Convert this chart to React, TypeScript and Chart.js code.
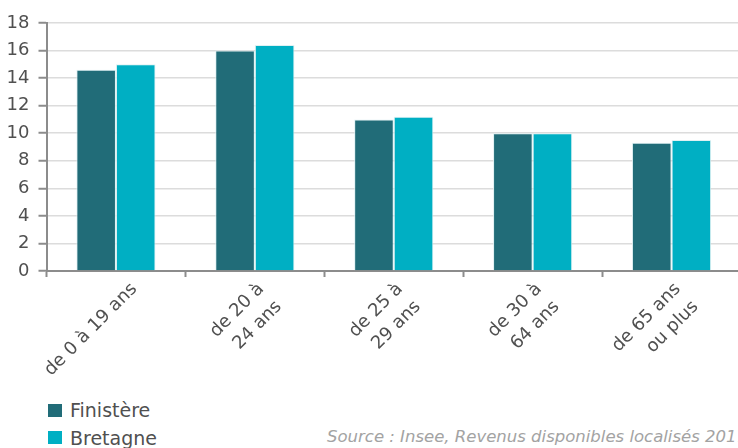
import { useEffect, useRef } from "react";
import { Chart, registerables } from "chart.js";

Chart.register(...registerables);

// Age groups (multi-line labels where the axis wraps them)
const categories: string[][] = [
  ["de 0 à 19 ans"],
  ["de 20 à", "24 ans"],
  ["de 25 à", "29 ans"],
  ["de 30 à", "64 ans"],
  ["de 65 ans", "ou plus"],
];

// Poverty rate by age group, in %
const finistere = [14.6, 16.0, 11.0, 10.0, 9.3];
const bretagne = [15.0, 16.4, 11.2, 10.0, 9.5];

const seriesNames = ["Finistère", "Bretagne"];
const seriesColors = ["#216c78", "#00afc3"];

const yMin = 0;
const yMax = 18;
const yStep = 2;

const sourceNote = "Source : Insee, Revenus disponibles localisés 2017";

const FONT = "'DejaVu Sans', sans-serif";
const AXIS_GREY = "#8c8c8c";
const TEXT_GREY = "#505050";

const LABEL_SIZE = 18;
const LABEL_LINE = 25;

// Category labels slanted at 45°; wrapped labels sit a little further left
const slantedLabels = {
  id: "slantedLabels",
  afterDraw(chart: any) {
    const { ctx } = chart;
    const xScale = chart.scales.x;
    const base = xScale.top;
    ctx.save();
    ctx.fillStyle = TEXT_GREY;
    ctx.font = `${LABEL_SIZE}px ${FONT}`;
    ctx.textAlign = "right";
    ctx.textBaseline = "top";
    categories.forEach((lines, i) => {
      const cx = xScale.getPixelForTick(i);
      const shift = 12 - 12 * (lines.length - 1);
      ctx.save();
      ctx.translate(cx + shift, base + 9);
      ctx.rotate(-Math.PI / 4);
      lines.forEach((line, j) => ctx.fillText(line, 0, j * LABEL_LINE));
      ctx.restore();
    });
    ctx.restore();
  },
};

export default function App() {
  const canvasRef = useRef<HTMLCanvasElement | null>(null);

  useEffect(() => {
    if (!canvasRef.current) return;
    const chart = new Chart(canvasRef.current, {
      type: "bar",
      data: {
        labels: categories.map((l) => l.join(" ")),
        datasets: [finistere, bretagne].map((values, i) => ({
          label: seriesNames[i],
          data: values,
          backgroundColor: seriesColors[i],
          borderColor: "rgba(220, 240, 242, 0.9)",
          borderWidth: 1,
          categoryPercentage: 0.57,
          barPercentage: 1,
        })),
      },
      options: {
        responsive: false,
        animation: false,
        layout: { padding: { left: 0, right: 19, top: 23, bottom: 0 } },
        plugins: {
          legend: { display: false },
          tooltip: { enabled: false },
        },
        scales: {
          x: {
            grid: {
              offset: true,
              drawOnChartArea: false,
              tickLength: 6,
              tickColor: AXIS_GREY,
              tickWidth: 2,
            },
            border: { color: AXIS_GREY, width: 2 },
            ticks: { display: false, autoSkip: false },
            afterFit: (scale: any) => {
              scale.height = 119;
            },
          },
          y: {
            min: yMin,
            max: yMax,
            ticks: {
              stepSize: yStep,
              padding: 9,
              color: TEXT_GREY,
              font: { family: FONT, size: 18 },
            },
            grid: {
              color: "#dcdcdc",
              lineWidth: 1.5,
              tickLength: 8,
              tickColor: AXIS_GREY,
              tickWidth: 2,
            },
            border: { color: AXIS_GREY, width: 2 },
            afterFit: (scale: any) => {
              scale.width = 46.5;
            },
          },
        },
      },
      plugins: [slantedLabels],
    });
    return () => chart.destroy();
  }, []);

  return (
    <div
      style={{
        position: "fixed",
        left: 0,
        top: 0,
        width: 738,
        height: 448,
        overflow: "hidden",
        background: "#fff",
        fontFamily: FONT,
      }}
    >
      <canvas
        ref={canvasRef}
        width={760}
        height={390}
        style={{ position: "absolute", left: 0, top: 0, width: 760, height: 390 }}
      />
      {seriesNames.map((name, i) => (
        <div
          key={name}
          style={{
            position: "absolute",
            left: 48,
            top: 401 + i * 27.5,
            height: 18,
            display: "flex",
            alignItems: "center",
            whiteSpace: "nowrap",
          }}
        >
          <span
            style={{
              display: "inline-block",
              width: 14,
              height: 13,
              background: seriesColors[i],
              marginRight: 8,
            }}
          />
          <span style={{ fontSize: 19, color: TEXT_GREY, lineHeight: "18px" }}>{name}</span>
        </div>
      ))}
      <div
        style={{
          position: "absolute",
          left: 327,
          top: 427,
          fontSize: 16.5,
          lineHeight: "20px",
          fontStyle: "italic",
          color: "#a3a3a3",
          whiteSpace: "nowrap",
        }}
      >
        {sourceNote}
      </div>
    </div>
  );
}
